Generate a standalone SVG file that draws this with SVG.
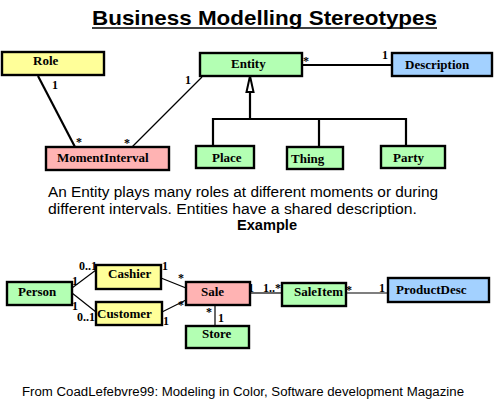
<svg xmlns="http://www.w3.org/2000/svg" width="495" height="405" viewBox="0 0 495 405">
<style>
.box{stroke:#000;stroke-width:2.4}
.y{fill:#ffff99}.g{fill:#b3ffb3}.p{fill:#ffb3b3}.b{fill:#a3d1ff}
.nt{font-family:"Liberation Serif","Times New Roman",serif;font-weight:bold;font-size:13px;fill:#000}
.m{font-family:"Liberation Serif","Times New Roman",serif;font-weight:bold;font-size:12px;fill:#000}
.ln{stroke:#000;stroke-width:1.2;fill:none}
.th{stroke:#000;stroke-width:2.2;fill:none}
.sans{font-family:"Liberation Sans",Arial,sans-serif;fill:#000}
</style>
<rect width="495" height="405" fill="#fff"/>
<text class="sans" x="92" y="25" font-size="21" font-weight="bold" textLength="345" lengthAdjust="spacingAndGlyphs">Business Modelling Stereotypes</text>
<line x1="92" y1="28" x2="437" y2="28" stroke="#000" stroke-width="1.6"/>

<g id="connectors">
<line class="th" x1="38" y1="76" x2="75" y2="147"/>
<line class="ln" x1="202" y1="77" x2="132" y2="147"/>
<line class="th" x1="302" y1="65" x2="392" y2="65"/>
<polygon points="250,76 246.5,92 253.5,92" fill="#fff" stroke="#000" stroke-width="2"/>
<polyline class="th" points="250,92 250,119"/>
<polyline class="th" points="213,146 213,119 406,119 406,146"/>
<line class="th" x1="319" y1="119" x2="319" y2="147"/>
<line class="ln" x1="72" y1="288" x2="96" y2="270"/>
<line class="ln" x1="72" y1="293" x2="96" y2="312"/>
<line class="ln" x1="161" y1="278" x2="186" y2="288"/>
<line class="ln" x1="162" y1="312" x2="186" y2="300"/>
<line class="ln" x1="215" y1="305" x2="215" y2="326"/>
<line class="ln" x1="250" y1="293" x2="282" y2="293"/>
<line class="ln" x1="346" y1="293" x2="388" y2="293"/>
<text class="m" x="52" y="89">1</text>
<text class="m" x="76" y="146">*</text>
<text class="m" x="124" y="147">*</text>
<text class="m" x="185" y="84">1</text>
<text class="m" x="303" y="65">*</text>
<text class="m" x="382" y="59">1</text>
<text class="m" x="79" y="270">0..1</text>
<text class="m" x="72" y="285">1</text>
<text class="m" x="72" y="310">1</text>
<text class="m" x="77" y="321">0..1</text>
<text class="m" x="162" y="270">1</text>
<text class="m" x="178" y="282">*</text>
<text class="m" x="178" y="309">*</text>
<text class="m" x="163" y="325">1</text>
<text class="m" x="206" y="316">*</text>
<text class="m" x="218" y="322">1</text>
<text class="m" x="248" y="292">1</text>
<text class="m" x="263" y="292">1..*</text>
<text class="m" x="346" y="294">*</text>
<text class="m" x="379" y="292">1</text>
</g>

<g id="role"><rect class="box y" x="2" y="52" width="102" height="23"/><text class="nt" x="33" y="65">Role</text></g>
<g id="entity"><rect class="box g" x="200" y="53" width="102" height="23"/><text class="nt" x="231" y="68">Entity</text></g>
<g id="description"><rect class="box b" x="392" y="53" width="100" height="23"/><text class="nt" x="405" y="69">Description</text></g>
<g id="momentinterval"><rect class="box p" x="46" y="147" width="123" height="23"/><text class="nt" x="57" y="162">MomentInterval</text></g>
<g id="place"><rect class="box g" x="196" y="146" width="58" height="22"/><text class="nt" x="212" y="162">Place</text></g>
<g id="thing"><rect class="box g" x="287" y="147" width="56" height="22"/><text class="nt" x="291" y="163">Thing</text></g>
<g id="party"><rect class="box g" x="381" y="146" width="64" height="22"/><text class="nt" x="393" y="162">Party</text></g>

<text class="sans" x="48" y="197" font-size="14" textLength="390" lengthAdjust="spacingAndGlyphs">An Entity plays many roles at different moments or during</text>
<text class="sans" x="48" y="214" font-size="14" textLength="369" lengthAdjust="spacingAndGlyphs">different intervals.  Entities have a shared description.</text>
<text class="sans" x="237" y="230" font-size="14" font-weight="bold" textLength="60" lengthAdjust="spacingAndGlyphs">Example</text>

<g id="person"><rect class="box g" x="7" y="282" width="65" height="23"/><text class="nt" x="18" y="296">Person</text></g>
<g id="cashier"><rect class="box y" x="96" y="265" width="65" height="24"/><text class="nt" x="108" y="278">Cashier</text></g>
<g id="customer"><rect class="box y" x="96" y="302" width="66" height="23"/><text class="nt" x="97" y="318">Customer</text></g>
<g id="sale"><rect class="box p" x="186" y="282" width="64" height="23"/><text class="nt" x="201" y="296">Sale</text></g>
<g id="store"><rect class="box g" x="186" y="326" width="63" height="22"/><text class="nt" x="202" y="338">Store</text></g>
<g id="saleitem"><rect class="box g" x="282" y="283" width="64" height="23"/><text class="nt" x="294" y="296">SaleItem</text></g>
<g id="productdesc"><rect class="box b" x="388" y="278" width="101" height="24"/><text class="nt" x="396" y="294">ProductDesc</text></g>

<text class="sans" x="22" y="396" font-size="12" textLength="442" lengthAdjust="spacingAndGlyphs">From CoadLefebvre99: Modeling in Color, Software development Magazine</text>
</svg>
